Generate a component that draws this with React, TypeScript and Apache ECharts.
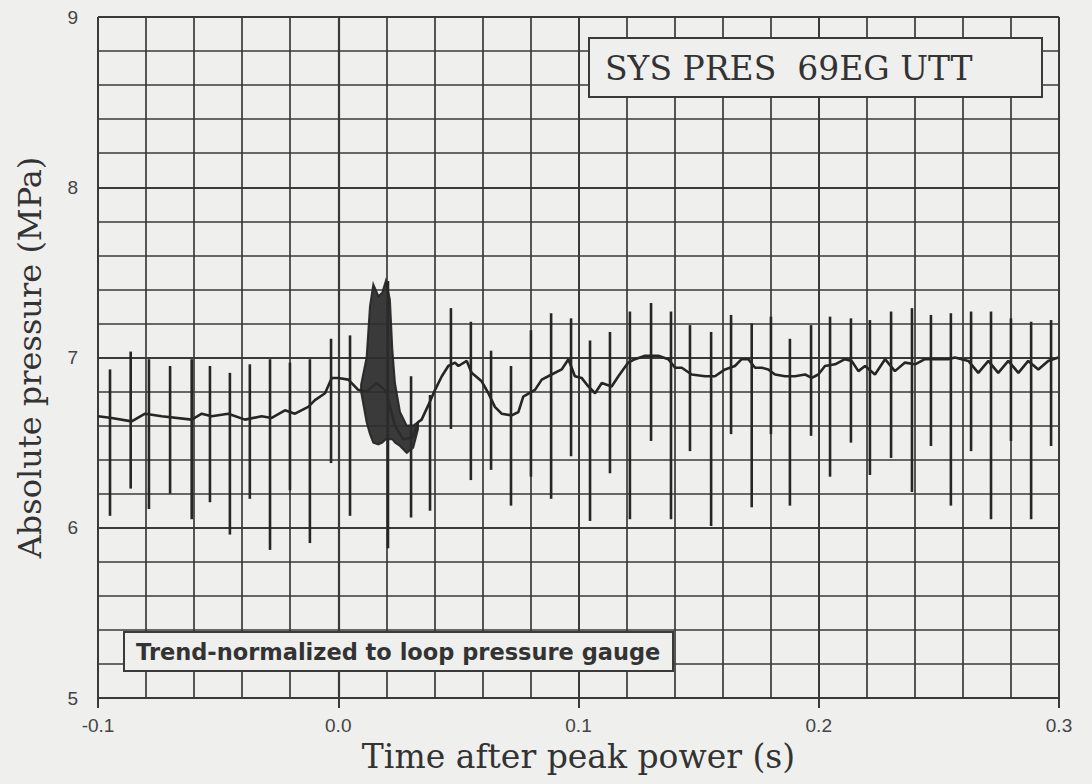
import React, { useEffect, useRef } from "react";
import * as echarts from "echarts";

// Axis ticks
const xTicks = [-0.1, 0.0, 0.1, 0.2, 0.3];
const yTicks = [5, 6, 7, 8, 9];

// Slow trend of the pressure trace (time s, pressure MPa)
const baseT = [
  -0.1, -0.0943, -0.086, -0.0804, -0.0735, -0.061, -0.0568, -0.0527, -0.0458, -0.0388,
  -0.0319, -0.0277, -0.0222, -0.018, -0.0125, -0.0097, -0.0055, -0.0027, 0.0, 0.0042,
  0.0083, 0.0118, 0.016, 0.02, 0.0236, 0.027, 0.031, 0.0332, 0.0347, 0.0375,
  0.0403, 0.0431, 0.0458, 0.0486, 0.05, 0.0535, 0.0555, 0.0597, 0.0625, 0.0652,
  0.068, 0.0722, 0.075, 0.077, 0.0819, 0.0847, 0.0888, 0.093, 0.0958, 0.0985,
  0.1013, 0.1041, 0.1069, 0.1097, 0.1138, 0.1166, 0.1207, 0.1235, 0.1277, 0.1332,
  0.1374, 0.1402, 0.143, 0.1471, 0.1527, 0.1568, 0.161, 0.1651, 0.1679, 0.1707,
  0.1735, 0.1763, 0.179, 0.1818, 0.186, 0.1901, 0.1943, 0.1971, 0.1998, 0.2026,
  0.2068, 0.2109, 0.2137, 0.2165, 0.2193, 0.2234, 0.2276, 0.2317, 0.2359, 0.2401,
  0.2442, 0.2484, 0.2539, 0.2567, 0.2623, 0.2664, 0.2706, 0.2747, 0.2789, 0.2831,
  0.2872, 0.2914, 0.2955, 0.2997,
];
const baseV = [
  6.655, 6.645, 6.625, 6.67, 6.655, 6.635, 6.67, 6.655, 6.67, 6.635,
  6.655, 6.645, 6.69, 6.67, 6.71, 6.75, 6.79, 6.88, 6.88, 6.87,
  6.81, 6.8, 6.85, 6.8, 6.6, 6.52, 6.53, 6.62, 6.635, 6.72,
  6.81, 6.89, 6.95, 6.97, 6.95, 6.98, 6.91, 6.86, 6.79, 6.71,
  6.67, 6.66, 6.68, 6.77, 6.81, 6.87, 6.9, 6.93, 6.99, 6.89,
  6.88, 6.83, 6.79, 6.85, 6.83, 6.89, 6.97, 6.99, 7.01, 7.01,
  6.99, 6.94, 6.94, 6.9, 6.89, 6.89, 6.93, 6.95, 6.99, 6.99,
  6.94, 6.94, 6.93, 6.9, 6.89, 6.89, 6.9, 6.88, 6.9, 6.95,
  6.96, 6.99, 6.98, 6.92, 6.95, 6.9, 6.99, 6.92, 6.97, 6.96,
  6.99, 6.99, 6.99, 7.0, 6.98, 6.91, 6.98, 6.91, 6.98, 6.91,
  6.98, 6.93, 6.98, 7.0,
];

// Periodic spikes: time, upper and lower excursion (MPa)
const spikeT = [
  -0.095, -0.0864, -0.0788, -0.07, -0.061, -0.0534, -0.0451, -0.0368, -0.0284, -0.0201,
  -0.0118, -0.003, 0.0049, 0.0207, 0.0303, 0.0382, 0.0469, 0.0552, 0.0636, 0.0719,
  0.0802, 0.0886, 0.0969, 0.1048, 0.1131, 0.1214, 0.1302, 0.1385, 0.1464, 0.1552,
  0.1635, 0.1721, 0.1801, 0.188, 0.1968, 0.2047, 0.2134, 0.2213, 0.2301, 0.2388,
  0.2467, 0.255, 0.2634, 0.2717, 0.28, 0.2884, 0.2967,
];
const spikeHi = [
  6.93, 7.035, 6.99, 6.95, 6.99, 6.95, 6.91, 6.96, 6.99, 6.97,
  6.99, 7.11, 7.13, 7.45, 6.89, 6.78, 7.29, 7.21, 7.04, 6.95,
  7.16, 7.26, 7.23, 7.1, 7.15, 7.27, 7.32, 7.27, 7.19, 7.15,
  7.25, 7.2, 7.24, 7.11, 7.19, 7.24, 7.23, 7.22, 7.27, 7.29,
  7.25, 7.26, 7.27, 7.27, 7.23, 7.21, 7.22,
];
const spikeLo = [
  6.07, 6.23, 6.11, 6.2, 6.05, 6.15, 5.96, 6.17, 5.87, 6.22,
  5.91, 6.38, 6.07, 5.88, 6.06, 6.1, 6.58, 6.28, 6.34, 6.13,
  6.3, 6.17, 6.42, 6.04, 6.32, 6.05, 6.51, 6.05, 6.45, 6.01,
  6.55, 6.12, 6.55, 6.13, 6.54, 6.3, 6.5, 6.31, 6.41, 6.21,
  6.48, 6.13, 6.45, 6.05, 6.51, 6.05, 6.48,
];

// Dense oscillation burst just after peak power: envelope
const burstT = [0.0095, 0.0118, 0.0132, 0.0146, 0.0167, 0.0183, 0.0198, 0.0215, 0.0225, 0.0236, 0.0257, 0.0285, 0.0312, 0.0332];
const burstHi = [6.84, 7.0, 7.3, 7.43, 7.36, 7.38, 7.45, 7.34, 7.05, 6.85, 6.68, 6.6, 6.6, 6.62];
const burstLo = [6.8, 6.62, 6.55, 6.5, 6.49, 6.5, 6.52, 6.52, 6.52, 6.5, 6.48, 6.44, 6.47, 6.58];

const titleText = "SYS PRES  69EG UTT";
const noteText = "Trend-normalized to loop pressure gauge";

const BG = "#efefed";
const INK = "#262626";
const GRID = "#3a3a3a";

export default function App() {
  const ref = useRef<HTMLDivElement>(null);

  useEffect(() => {
    document.body.style.margin = "0";
    document.body.style.background = BG;
    if (!ref.current) return;
    const chart = echarts.init(ref.current, undefined, { renderer: "svg" });

    const baseData = baseT.map((t, i) => [t, baseV[i]]);
    const spikeData = spikeT.map((t, i) => [t, spikeLo[i], spikeHi[i]]);
    const burstData = burstT.map((t, i) => [t, burstLo[i], burstHi[i]]);

    const option: any = {
      animation: false,
      backgroundColor: BG,
      grid: { left: 98, top: 17, width: 961, height: 681, containLabel: false },
      xAxis: {
        type: "value",
        min: xTicks[0],
        max: xTicks[xTicks.length - 1],
        interval: 0.1,
        name: "Time after peak power (s)",
        nameLocation: "middle",
        nameGap: 42,
        nameTextStyle: { fontFamily: "DejaVu Serif", fontSize: 33, color: "#333" },
        axisLine: { show: true, lineStyle: { color: GRID, width: 2.2 } },
        axisTick: { show: true, length: 10, lineStyle: { color: GRID, width: 2 } },
        axisLabel: {
          fontFamily: "Liberation Sans",
          fontSize: 19,
          color: "#444",
          margin: 18,
          formatter: (v: number) => v.toFixed(1),
        },
        splitLine: { show: true, lineStyle: { color: GRID, width: 2 } },
        minorTick: { show: false, splitNumber: 5 },
        minorSplitLine: { show: true, lineStyle: { color: GRID, width: 1.7 } },
      },
      yAxis: {
        type: "value",
        min: yTicks[0],
        max: yTicks[yTicks.length - 1],
        interval: 1,
        name: "Absolute pressure (MPa)",
        nameLocation: "middle",
        nameGap: 52,
        nameTextStyle: { fontFamily: "DejaVu Serif", fontSize: 32, color: "#333" },
        axisLine: { show: true, lineStyle: { color: GRID, width: 2.2 } },
        axisTick: { show: true, length: 10, lineStyle: { color: GRID, width: 2 } },
        axisLabel: { fontFamily: "Liberation Sans", fontSize: 19, color: "#444", margin: 20 },
        splitLine: { show: true, lineStyle: { color: GRID, width: 2 } },
        minorTick: { show: false, splitNumber: 5 },
        minorSplitLine: { show: true, lineStyle: { color: GRID, width: 1.7 } },
      },
      series: [
        {
          type: "line",
          data: baseData,
          showSymbol: false,
          symbol: "none",
          lineStyle: { color: INK, width: 2.6 },
          z: 3,
        },
        {
          type: "custom",
          data: spikeData,
          encode: { x: 0, y: [1, 2] },
          renderItem: (params: any, api: any) => {
            const t = api.value(0);
            const p1 = api.coord([t, api.value(1)]);
            const p2 = api.coord([t, api.value(2)]);
            return {
              type: "line",
              shape: { x1: p1[0], y1: p1[1], x2: p2[0], y2: p2[1] },
              style: { stroke: INK, lineWidth: 2.6 },
            };
          },
          z: 4,
        },
        {
          type: "custom",
          data: burstData,
          encode: { x: 0, y: [1, 2] },
          renderItem: (params: any, api: any) => {
            if (params.dataIndex !== 0) return null;
            const top = burstT.map((t, i) => api.coord([t, burstHi[i]]));
            const bottom = burstT.map((t, i) => api.coord([t, burstLo[i]])).reverse();
            return {
              type: "polygon",
              shape: { points: top.concat(bottom) },
              style: { fill: "#2c2c2c", stroke: INK, lineWidth: 2, opacity: 0.93 },
            };
          },
          z: 5,
        },
      ],
      graphic: [
        {
          type: "rect",
          z: 100,
          shape: { x: 589, y: 38, width: 453, height: 59 },
          style: { fill: BG, stroke: GRID, lineWidth: 2 },
        },
        {
          type: "text",
          z: 101,
          x: 605,
          y: 68,
          style: {
            text: titleText,
            fontFamily: "DejaVu Serif",
            fontSize: 33,
            fill: "#333",
            verticalAlign: "middle",
            align: "left",
          },
        },
        {
          type: "rect",
          z: 100,
          shape: { x: 124, y: 632, width: 549, height: 39 },
          style: { fill: BG, stroke: GRID, lineWidth: 2 },
        },
        {
          type: "text",
          z: 101,
          x: 136,
          y: 652,
          style: {
            text: noteText,
            fontFamily: "DejaVu Sans",
            fontWeight: "bold",
            fontSize: 22.5,
            fill: "#333",
            verticalAlign: "middle",
            align: "left",
          },
        },
      ],
    };

    chart.setOption(option);
    return () => chart.dispose();
  }, []);

  return <div ref={ref} style={{ width: 1092, height: 784 }} />;
}
